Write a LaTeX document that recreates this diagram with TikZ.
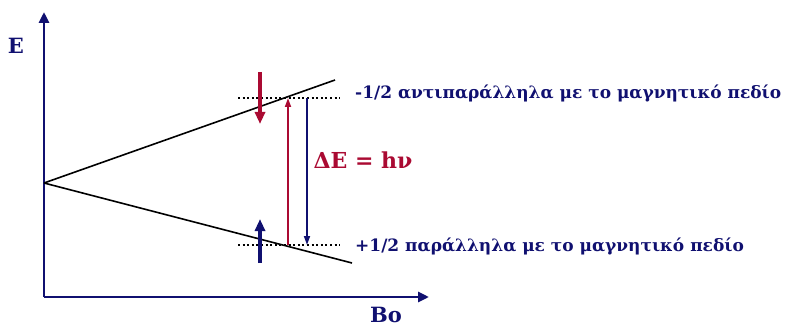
\documentclass[tikz,border=0pt]{standalone}
\usepackage{fontspec}
\setmainfont{DejaVu Serif}
\usetikzlibrary{positioning,arrows.meta,calc}
\definecolor{nmrnavy}{RGB}{16,16,112}
\definecolor{nmrred}{RGB}{170,10,50}
\tikzset{
  axis/.style={-{Triangle[length=11pt,width=10pt]}, line width=2.8pt, nmrnavy},
  level/.style={line width=1.6pt, black},
  dots/.style={dash pattern=on 2pt off 2.6pt, line width=2pt, black},
  spin/.style={-{Triangle[length=12pt,width=10pt]}, line width=3.2pt},
  trans/.style={-{Triangle[length=9pt,width=6pt]}, line width=1.7pt},
  lbl/.style={font=\bfseries\fontsize{17}{19}\selectfont, text=nmrnavy, inner sep=0pt}
}
\begin{document}
\begin{tikzpicture}[x=1pt,y=-1pt]
    \useasboundingbox (0,0) rectangle (788,329);
    % axes
    \coordinate (o) at (44,297);
    \coordinate (etop) at (44,12);
    \coordinate (bend) at (429,297);
    \draw[axis] (o) -- (etop);
    \draw[axis] (o) -- (bend);
    \node[lbl, font=\bfseries\fontsize{21}{23}\selectfont] (elab) at (16,46) {E};
    \node[lbl, font=\bfseries\fontsize{21}{23}\selectfont] (blab) at (386,315) {Bo};
    % energy levels
    \coordinate (split) at (44,183);
    \coordinate (up) at (335,80);
    \coordinate (down) at (352,263);
    \draw[level] (split) -- (up);
    \draw[level] (split) -- (down);
    \coordinate (ua) at (238,98);
    \coordinate (ub) at (340,98);
    \coordinate (la) at (238,245);
    \coordinate (lb) at (340,245);
    \draw[dots] (ua) -- (ub);
    \draw[dots] (la) -- (lb);
    \node[lbl, anchor=west] (anti) at (355,93) {-1/2 αντιπαράλληλα με το μαγνητικό πεδίο};
    \node[lbl, anchor=west] (para) at (355,246) {+1/2 παράλληλα με το μαγνητικό πεδίο};
    % spins
    \coordinate (rs) at (260,72);
    \coordinate (re) at (260,124);
    \coordinate (bs) at (260,263);
    \coordinate (be) at (260,219);
    \draw[spin, nmrred] (rs) -- (re);
    \draw[spin, nmrnavy] (bs) -- (be);
    % transition
    \coordinate (t1) at (288,245);
    \coordinate (t2) at (288,98);
    \coordinate (t3) at (307,98);
    \coordinate (t4) at (307,245);
    \draw[trans, nmrred] (t1) -- (t2);
    \draw[trans, nmrnavy] (t3) -- (t4);
    \node[lbl, text=nmrred, font=\bfseries\fontsize{22}{24}\selectfont] (de) at (363,160) {ΔE = hν};
  \end{tikzpicture}
\end{document}
